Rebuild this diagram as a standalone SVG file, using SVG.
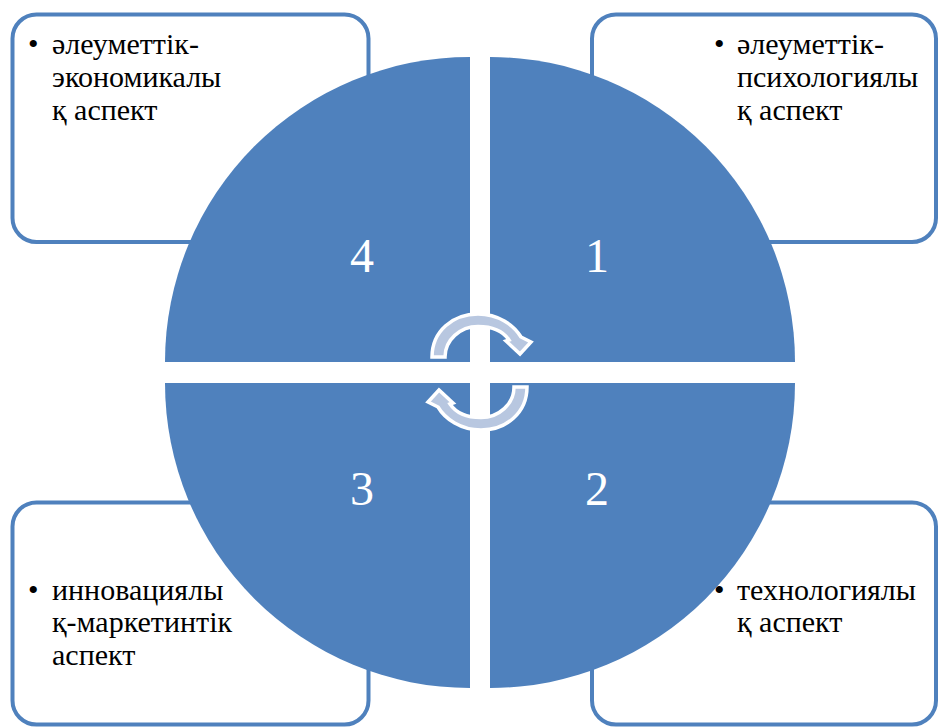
<svg xmlns="http://www.w3.org/2000/svg" width="939" height="727" viewBox="0 0 939 727">
  <style>
    .box { fill: #ffffff; stroke: #4f81bd; stroke-width: 4; }
    .seg { fill: #4f81bd; }
    .txt { font-size: 30px; fill: #000000; }
    .num { font-size: 48px; fill: #ffffff; text-anchor: middle; }
    .cyc { fill: #b8c7e0; stroke: #ffffff; stroke-width: 3.5; stroke-linejoin: miter; }
  </style>
  <defs>
    <path id="cycle-arrow" d="M 432 357 C 432 331, 453 314, 478 314 C 498 314, 514 325, 521 337 L 531 342 L 520 354 L 506 341 L 509 340 C 503 331, 492 326.5, 478 326.5 C 460 326.5, 445 340, 445 357 Z"/>
  </defs>
  <rect width="939" height="727" fill="#ffffff"/>

  <g font-family="Liberation Serif, Tinos, DejaVu Serif, serif">
  <!-- corner text boxes (behind the circle) -->
  <g id="box-top-left">
    <rect class="box" x="12.5" y="14.5" width="356" height="227.5" rx="24"/>
    <text class="txt" x="28" y="53.5">•</text>
    <text class="txt" x="52" y="53.5">әлеуметтік-</text>
    <text class="txt" x="52" y="86.5">экономикалы</text>
    <text class="txt" x="52" y="119.5">қ аспект</text>
  </g>
  <g id="box-top-right">
    <rect class="box" x="592" y="14.5" width="344" height="227.5" rx="24"/>
    <text class="txt" x="714" y="53.5">•</text>
    <text class="txt" x="737" y="53.5">әлеуметтік-</text>
    <text class="txt" x="737" y="86.5">психологиялы</text>
    <text class="txt" x="737" y="119.5">қ аспект</text>
  </g>
  <g id="box-bottom-left">
    <rect class="box" x="12.5" y="502.5" width="356" height="222" rx="24"/>
    <text class="txt" x="28" y="599.5">•</text>
    <text class="txt" x="52" y="599.5">инновациялы</text>
    <text class="txt" x="52" y="632">қ-маркетинтік</text>
    <text class="txt" x="52" y="665">аспект</text>
  </g>
  <g id="box-bottom-right">
    <rect class="box" x="592" y="502.5" width="344" height="222" rx="24"/>
    <text class="txt" x="714" y="599.5">•</text>
    <text class="txt" x="737" y="599.5">технологиялы</text>
    <text class="txt" x="737" y="632">қ аспект</text>
  </g>

  <!-- four quadrants of the central circle -->
  <g id="segment-4">
    <path class="seg" d="M 470 362 L 165 362 A 305 305 0 0 1 470 57 Z"/>
    <text class="num" x="362" y="272">4</text>
  </g>
  <g id="segment-1">
    <path class="seg" d="M 490 362 L 490 57 A 305 305 0 0 1 795 362 Z"/>
    <text class="num" x="597" y="272">1</text>
  </g>
  <g id="segment-2">
    <path class="seg" d="M 490 383 L 795 383 A 305 305 0 0 1 490 688 Z"/>
    <text class="num" x="597" y="505">2</text>
  </g>
  <g id="segment-3">
    <path class="seg" d="M 470 383 L 470 688 A 305 305 0 0 1 165 383 Z"/>
    <text class="num" x="362" y="505">3</text>
  </g>
  </g>

  <!-- circular arrows in the centre -->
  <g id="connectors">
    <use href="#cycle-arrow" class="cyc"/>
    <use href="#cycle-arrow" class="cyc" transform="rotate(180 479.5 372)"/>
  </g>
</svg>
